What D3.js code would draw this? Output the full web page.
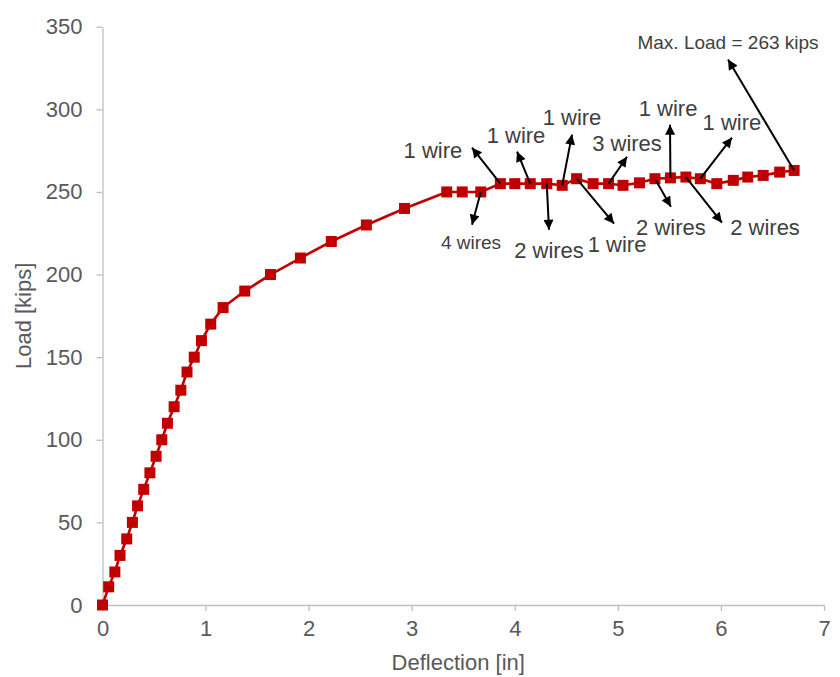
<!DOCTYPE html>
<html>
<head>
<meta charset="utf-8">
<script src="https://cdn.jsdelivr.net/npm/d3@7"></script>
<style>
  html, body { margin: 0; padding: 0; background: #ffffff; }
  svg { display: block; font-family: "Liberation Sans", Arial, Helvetica, sans-serif; }
</style>
</head>
<body>
<svg id="chart" width="840" height="677"></svg>
<script>
// Load–deflection test record
const deflection = [0, 0.06, 0.12, 0.17, 0.235, 0.29, 0.34, 0.40, 0.46, 0.52,
  0.575, 0.63, 0.695, 0.76, 0.82, 0.89, 0.96, 1.05, 1.17, 1.38,
  1.63, 1.92, 2.22, 2.56, 2.93, 3.34, 3.49, 3.67, 3.86, 4.00,
  4.15, 4.31, 4.46, 4.60, 4.76, 4.91, 5.05, 5.21, 5.36, 5.51,
  5.66, 5.80, 5.96, 6.12, 6.26, 6.41, 6.57, 6.71];
const load = [0, 11, 20, 30, 40, 50, 60, 70, 80, 90,
  100, 110, 120, 130, 141, 150, 160, 170, 180, 190,
  200, 210, 220, 230, 240, 250, 250, 250, 255, 255,
  255, 255, 254, 258, 255, 255, 254, 255.5, 258, 258.5,
  259, 258, 255, 257, 259, 260, 262, 263];

const xTicks = [0, 1, 2, 3, 4, 5, 6, 7];
const yTicks = [0, 50, 100, 150, 200, 250, 300, 350];

// Wire-break notes: text, index of the reading they point at,
// arrow tip and text centre in (deflection, load) units
const noteText   = ["1 wire", "4 wires", "1 wire", "2 wires", "1 wire", "1 wire",
                    "3 wires", "2 wires", "1 wire", "2 wires", "1 wire", "Max. Load = 263 kips"];
const noteAnchor = [28, 27, 30, 31, 32, 33, 35, 38, 39, 40, 41, 47];
const noteTipX   = [3.585, 3.585, 4.022, 4.332, 4.555, 4.963, 5.089, 5.515, 5.506, 6.010, 6.107, 6.069];
const noteTipY   = [276.8, 230.2, 274.4, 227.1, 284.7, 230.8, 271.3, 241.1, 290.7, 231.4, 282.9, 330.1];
const noteTextX  = [3.206, 3.575, 4.012, 4.332, 4.555, 4.992, 5.089, 5.515, 5.487, 6.428, 6.107, 6.069];
const noteTextY  = [275.6, 219.9, 284.7, 215.0, 295.0, 218.7, 279.8, 229.0, 301.0, 229.0, 292.5, 340.4];
const smallNotes = ["4 wires", "Max. Load = 263 kips"];

const svg = d3.select("#chart");
const margin = { left: 102.5, right: 16, top: 26.7, bottom: 72 };
const W = 840, H = 677;

const x = d3.scaleLinear().domain([0, 7]).range([margin.left, W - margin.right]);
const y = d3.scaleLinear().domain([0, 350]).range([H - margin.bottom, margin.top]);

const axisColor = "#bfbfbf";
const labelColor = "#595959";

// Axes
const xAxis = svg.append("g")
  .attr("transform", `translate(0,${y(0)})`)
  .call(d3.axisBottom(x).tickValues(xTicks).tickSize(6).tickSizeOuter(0).tickPadding(9)
    .tickFormat(d3.format("d")));
const yAxis = svg.append("g")
  .attr("transform", `translate(${x(0)},0)`)
  .call(d3.axisLeft(y).tickValues(yTicks).tickSize(6).tickSizeOuter(0).tickPadding(14)
    .tickFormat(d3.format("d")));

[xAxis, yAxis].forEach(g => {
  g.select(".domain").attr("stroke", axisColor).attr("stroke-width", 1.3);
  g.selectAll(".tick line").attr("stroke", axisColor).attr("stroke-width", 1.3);
  g.selectAll(".tick text").attr("fill", labelColor)
    .style("font-size", "22px").style("font-family", "'Liberation Sans', Arial, sans-serif");
});

// Axis titles
svg.append("text")
  .attr("x", (x(0) + x(7)) / 2 - 5)
  .attr("y", 670)
  .attr("text-anchor", "middle")
  .attr("fill", labelColor)
  .style("font-size", "22px")
  .text("Deflection [in]");

svg.append("text")
  .attr("transform", `translate(31,${(y(0) + y(350)) / 2}) rotate(-90)`)
  .attr("text-anchor", "middle")
  .attr("fill", labelColor)
  .style("font-size", "22px")
  .text("Load [kips]");

// Series line and square markers
const pts = deflection.map((d, i) => [d, load[i]]);
const red = "#c00000";

svg.append("path")
  .datum(pts)
  .attr("fill", "none")
  .attr("stroke", red)
  .attr("stroke-width", 2.6)
  .attr("stroke-linejoin", "round")
  .attr("d", d3.line().x(d => x(d[0])).y(d => y(d[1])));

const m = 11;
svg.append("g").selectAll("rect")
  .data(pts)
  .join("rect")
  .attr("x", d => x(d[0]) - m / 2)
  .attr("y", d => y(d[1]) - m / 2)
  .attr("width", m)
  .attr("height", m)
  .attr("fill", red);

// Arrowhead
svg.append("defs").append("marker")
  .attr("id", "head")
  .attr("viewBox", "0 0 10 10")
  .attr("refX", 10).attr("refY", 5)
  .attr("markerUnits", "userSpaceOnUse")
  .attr("markerWidth", 11).attr("markerHeight", 10)
  .attr("orient", "auto")
  .append("path")
  .attr("d", "M0,0 L10,5 L0,10 Z")
  .attr("fill", "#000");

// Notes: arrows from readings, then their text
const notes = noteText.map((t, i) => ({
  text: t,
  from: pts[noteAnchor[i]],
  tip: [noteTipX[i], noteTipY[i]],
  at: [noteTextX[i], noteTextY[i]]
}));

svg.append("g").selectAll("line")
  .data(notes)
  .join("line")
  .attr("x1", d => x(d.from[0]))
  .attr("y1", d => y(d.from[1]))
  .attr("x2", d => x(d.tip[0]))
  .attr("y2", d => y(d.tip[1]))
  .attr("stroke", "#000")
  .attr("stroke-width", 2)
  .attr("marker-end", "url(#head)");

svg.append("g").selectAll("text")
  .data(notes)
  .join("text")
  .attr("x", d => x(d.at[0]))
  .attr("y", d => y(d.at[1]))
  .attr("dy", "0.36em")
  .attr("text-anchor", "middle")
  .attr("fill", "#404040")
  .style("font-size", d => smallNotes.includes(d.text) ? "19px" : "22px")
  .text(d => d.text);
</script>
</body>
</html>
